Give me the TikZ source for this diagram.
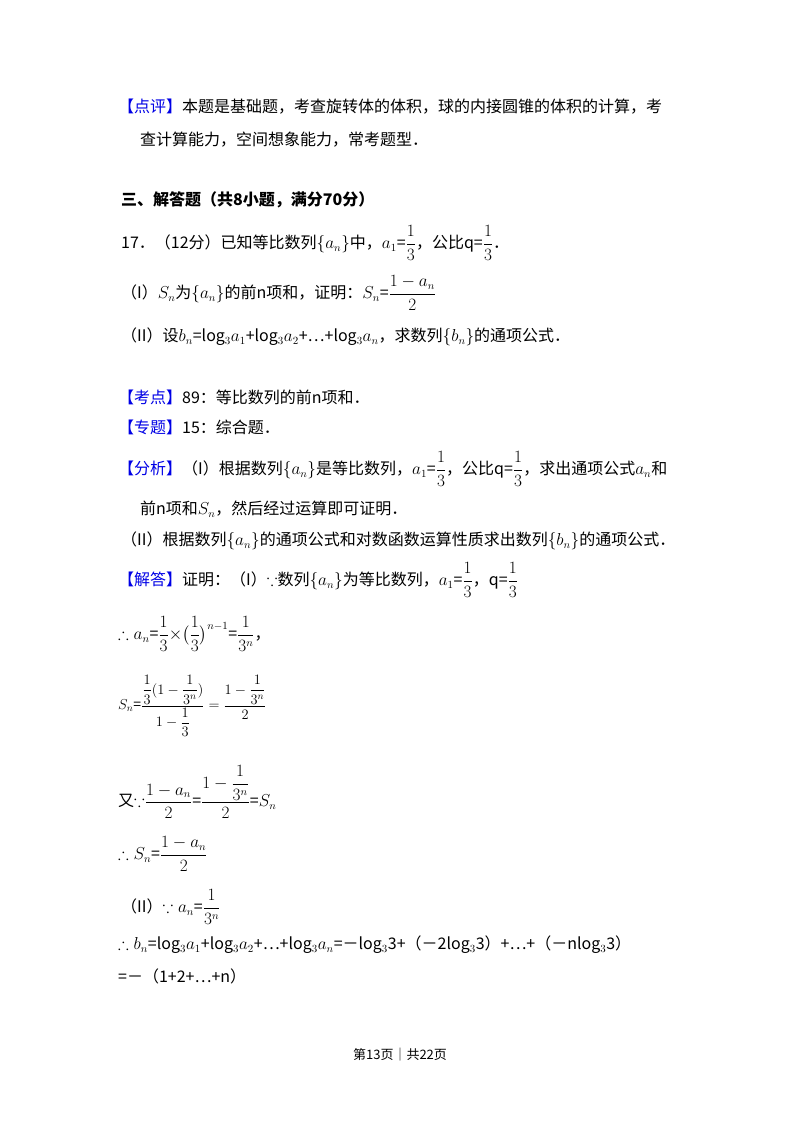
\documentclass[tikz,border=0pt]{standalone}
\usepackage{fontspec}
\usepackage{amsmath,amssymb}
\setmainfont{Noto Sans CJK SC}
\definecolor{lblue}{RGB}{0,0,230}
\begin{document}
\begin{tikzpicture}[x=1pt,y=-1pt,
  t/.style={anchor=west,inner sep=0pt,font=\fontsize{16}{18}\selectfont},
  b/.style={t,font=\fontsize{16}{18}\selectfont\bfseries}]
\useasboundingbox[fill=white] (0,0) rectangle (800,1132);
\newcommand{\bl}[1]{\textcolor{lblue}{#1}}
\newcommand{\sfr}[2]{$\dfrac{#1}{#2}$}
\node[t] (l1) at (118,107) {\bl{【点评】}本题是基础题，考查旋转体的体积，球的内接圆锥的体积的计算，考};
\node[t] (l2) at (140,140) {查计算能力，空间想象能力，常考题型．};
\node[b] (l3) at (121,200) {三、解答题（共8小题，满分70分）};
\node[t] (l4) at (121,243) {17．（12分）已知等比数列$\{a_n\}$中，$a_1$=\sfr13，公比q=\sfr13．};
\node[t] (l5) at (121,293) {（I）$S_n$为$\{a_n\}$的前n项和，证明：$S_n$=\sfr{1-a_n}{2}};
\node[t] (l6) at (121,337) {（II）设$b_n$=log$_3a_1$+log$_3a_2$+…+log$_3a_n$，求数列$\{b_n\}$的通项公式．};
\node[t] (l7) at (118,397) {\bl{【考点】}89：等比数列的前n项和．};
\node[t] (l8) at (118,427) {\bl{【专题】}15：综合题．};
\node[t] (l9) at (118,469) {\bl{【分析】}（I）根据数列$\{a_n\}$是等比数列，$a_1$=\sfr13，公比q=\sfr13，求出通项公式$a_n$和};
\node[t] (l10) at (140,509) {前n项和$S_n$，然后经过运算即可证明．};
\node[t] (l11) at (121,541) {（II）根据数列$\{a_n\}$的通项公式和对数函数运算性质求出数列$\{b_n\}$的通项公式．};
\node[t] (l12) at (118,580) {\bl{【解答】}证明：（I）$\because$数列$\{a_n\}$为等比数列，$a_1$=\sfr13，q=\sfr13};
\node[t] (l13) at (118,634) {$\therefore a_n$=\sfr13$\times\bigl(\dfrac13\bigr)^{n-1}$=\sfr1{3^n}，};
\node[t,font=\fontsize{14}{16}\selectfont] (l14) at (118,706) {$S_n$=$\dfrac{\dfrac13(1-\dfrac1{3^n})}{1-\dfrac13}=\dfrac{1-\dfrac1{3^n}}{2}$};
\node[t] (l15) at (118,792) {又$\because$\sfr{1-a_n}{2}=$\dfrac{1-\dfrac1{3^n}}{2}$=$S_n$};
\node[t] (l16) at (118,854) {$\therefore S_n$=\sfr{1-a_n}{2}};
\node[t] (l17) at (121,907) {（II）$\because a_n$=\sfr1{3^n}};
\node[t] (l18) at (118,945) {$\therefore b_n$=log$_3a_1$+log$_3a_2$+…+log$_3a_n$=－log$_3$3+（－2log$_3$3）+…+（－nlog$_3$3）};
\node[t] (l19) at (118,976) {=－（1+2+…+n）};
\node[anchor=center,inner sep=0pt,font=\fontsize{13}{15}\selectfont] (ft) at (400,1055) {第13页｜共22页};
\end{tikzpicture}
\end{document}
